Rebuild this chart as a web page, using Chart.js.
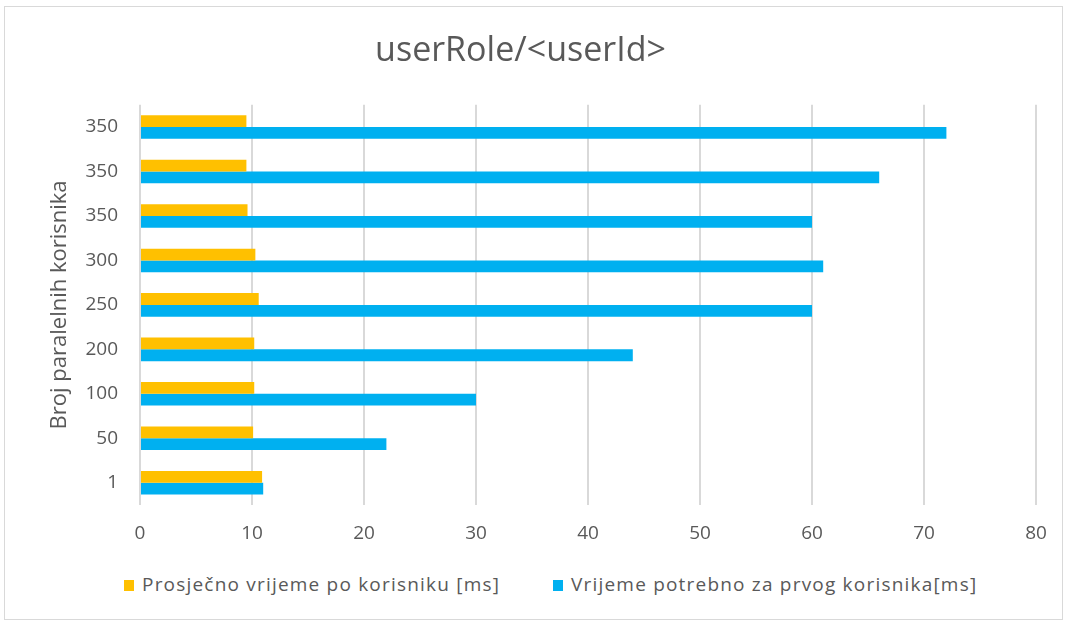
<!DOCTYPE html>
<html>
<head>
<meta charset="utf-8">
<script src="https://cdn.jsdelivr.net/npm/chart.js@4"></script>
<style>
  body { margin: 0; background: #fff; font-family: 'Open Sans', sans-serif; }
  #frame { position: absolute; left: 4px; top: 6px; width: 1057px; height: 612px; border: 1px solid #d9d9d9; }
  #wrap { position: absolute; left: 0; top: 0; width: 1057px; height: 560px; }
  #legend { position: absolute; top: 564px; left: 0; width: 1057px; font-size: 19px; letter-spacing: 1.2px; color: #595959; }
  .item { position: absolute; top: 0; white-space: nowrap; }
  .box { display: inline-block; width: 10px; height: 11px; margin-right: 8px; vertical-align: 0px; }
</style>
</head>
<body>
<div id="frame">
  <div id="wrap"><canvas id="myChart"></canvas></div>
  <div id="legend"></div>
</div>
<script>
// Etiquete kategorija (odozgo prema dolje)
var korisnici = ['350', '350', '350', '300', '250', '200', '100', '50', '1'];
// Prosječno vrijeme po korisniku [ms]
var prosjecno = [9.5, 9.5, 9.6, 10.3, 10.6, 10.2, 10.2, 10.1, 10.9];
// Vrijeme potrebno za prvog korisnika [ms]
var prvi = [72, 66, 60, 61, 60, 44, 30, 22, 11];
var nazivi = ['Prosječno vrijeme po korisniku [ms]', 'Vrijeme potrebno za prvog korisnika[ms]'];
var boje = ['#FFC000', '#00B0F0'];
var xTicks = [0, 10, 20, 30, 40, 50, 60, 70, 80];

var siva = '#595959';
var font = 'Open Sans';

var ctx = document.getElementById('myChart').getContext('2d');
var myChart = new Chart(ctx, {
    type: 'bar',
    data: {
        labels: korisnici,
        datasets: [{
            label: nazivi[0],
            data: prosjecno,
            backgroundColor: boje[0]
        }, {
            label: nazivi[1],
            data: prvi,
            backgroundColor: boje[1]
        }]
    },
    options: {
        indexAxis: 'y',
        responsive: true,
        maintainAspectRatio: false,
        animation: false,
        categoryPercentage: 0.53,
        barPercentage: 1.0,
        layout: { padding: { left: 0, right: 26, top: 10, bottom: 0 } },
        plugins: {
            legend: { display: false },
            tooltip: { enabled: false },
            title: {
                display: true,
                text: 'userRole/<userId>',
                color: siva,
                font: { family: font, size: 34, weight: 'normal' },
                padding: { top: 14, bottom: 33 }
            }
        },
        scales: {
            x: {
                min: 0,
                max: 80,
                afterBuildTicks: function(scale) {
                    scale.ticks = xTicks.map(function(v) { return { value: v }; });
                },
                afterFit: function(scale) {
                    scale.height = 62;
                    scale.paddingLeft = 0;
                    scale.paddingRight = 0;
                },
                grid: { color: '#d9d9d9', lineWidth: 2, drawTicks: false },
                border: { display: false },
                ticks: { color: siva, font: { family: font, size: 19 }, padding: 17 }
            },
            y: {
                afterFit: function(scale) {
                    scale.width = 135;
                },
                grid: { display: false, drawTicks: false },
                border: { display: false },
                ticks: { color: siva, font: { family: font, size: 19 }, padding: 22 },
                title: {
                    display: true,
                    text: 'Broj paralelnih korisnika',
                    color: siva,
                    font: { family: font, size: 22 },
                    padding: { top: 42, bottom: 0 }
                }
            }
        }
    }
});

// Legenda ispod grafikona
var legend = document.getElementById('legend');
var pozicije = [119, 548];
nazivi.forEach(function(n, i) {
    var el = document.createElement('span');
    el.className = 'item';
    el.style.left = pozicije[i] + 'px';
    el.innerHTML = '<span class="box" style="background:' + boje[i] + '"></span>';
    el.appendChild(document.createTextNode(n));
    legend.appendChild(el);
});
</script>
</body>
</html>
